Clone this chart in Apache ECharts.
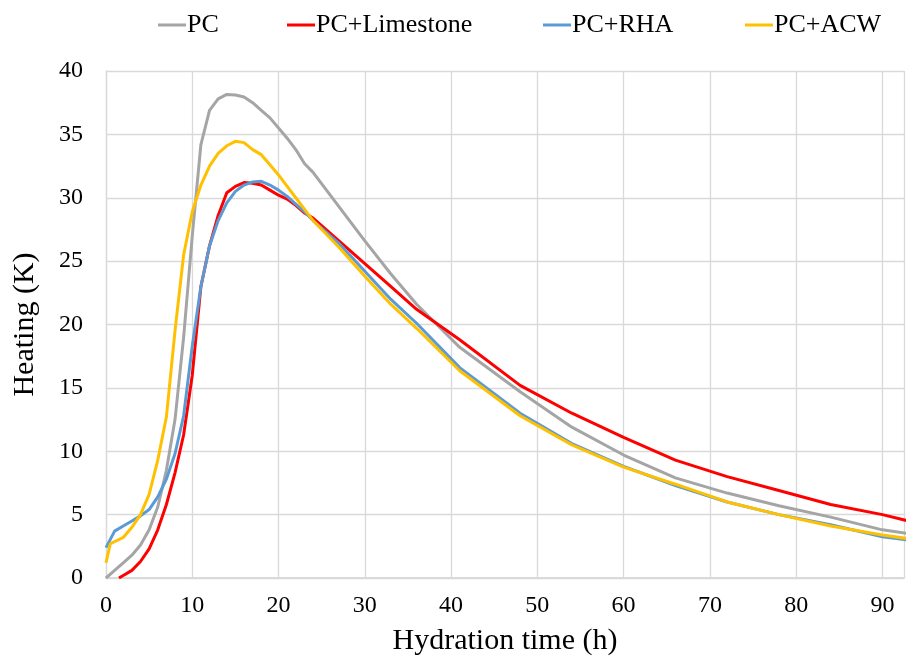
<!DOCTYPE html>
<html>
<head>
<meta charset="utf-8">
<script src="https://cdn.jsdelivr.net/npm/echarts@6/dist/echarts.min.js"></script>
<style>
html,body{margin:0;padding:0;background:#fff;}
#c{width:907px;height:663px;}
</style>
</head>
<body>
<div id="c"></div>
<script>
// Hydration time (h) sample points per series
const seriesNames = ['PC', 'PC+Limestone', 'PC+RHA', 'PC+ACW'];

const pcX = [0,1,2,3,4,5,6,7,8,9,10,11,12,13,14,15,16,17,18,19,20,21,22,23,24,27,30,33,36,41,48,54,60,66,72,78,84,90,93];
const pcY = [0,0.6,1.2,1.8,2.6,3.8,5.6,8.5,12.5,19,27,34.2,36.9,37.8,38.15,38.1,37.95,37.5,36.9,36.3,35.5,34.7,33.8,32.7,32.0,29.3,26.6,24.0,21.6,18.2,14.7,11.9,9.7,7.9,6.7,5.7,4.8,3.8,3.5];

const limX = [1.5,2,3,4,5,6,7,8,9,10,11,12,13,14,15,16,17,18,19,20,21,22,23,24,27,30,33,36,41,48,54,60,66,72,78,84,90,93];
const limY = [0,0.2,0.6,1.3,2.3,3.8,5.8,8.3,11.3,16.0,23.0,26.2,28.6,30.4,30.9,31.2,31.15,31.0,30.6,30.2,29.9,29.4,28.8,28.4,26.6,24.8,23.0,21.2,18.8,15.2,13.0,11.1,9.3,8.0,6.9,5.8,5.0,4.5];

const rhaX = [0,1,2,3,4,5,6,7,8,9,10,11,12,13,14,15,16,17,18,19,20,21,22,23,24,27,30,33,36,41,48,54,60,66,72,78,84,90,93];
const rhaY = [2.4,3.7,4.1,4.5,4.9,5.4,6.4,7.8,9.8,12.8,18.3,23.0,26.2,28.2,29.6,30.5,31.0,31.25,31.3,31.0,30.6,30.1,29.5,28.9,28.2,26.4,24.2,22.0,20.1,16.6,13.0,10.6,8.8,7.3,6.0,5.0,4.2,3.25,3.0];

const acwX = [0,0.5,2,3,4,5,6,7,8,9,10,11,12,13,14,15,16,17,18,19,20,21,22,23,24,27,30,33,36,41,48,54,60,66,72,78,84,90,93];
const acwY = [1.2,2.7,3.2,4.0,5.0,6.6,9.3,12.7,19.5,25.5,28.9,31.0,32.5,33.5,34.1,34.45,34.35,33.8,33.4,32.6,31.8,30.9,30.0,29.1,28.2,26.1,23.8,21.6,19.7,16.35,12.8,10.5,8.75,7.4,6.0,5.0,4.1,3.4,3.1];

const xTicks = [0,10,20,30,40,50,60,70,80,90];
const yTicks = [0,5,10,15,20,25,30,35,40];

const colors = ['#A5A5A5', '#FF0000', '#5B9BD5', '#FFC000'];
const xs = [pcX, limX, rhaX, acwX];
const ys = [pcY, limY, rhaY, acwY];

const FONT = '"Liberation Serif", "Times New Roman", serif';
const legendLeft = [158, 287, 543, 745];

const chart = echarts.init(document.getElementById('c'), null, {renderer: 'canvas'});
chart.setOption({
  animation: false,
  backgroundColor: '#fff',
  legend: seriesNames.map((n, i) => ({
    top: 12,
    left: legendLeft[i],
    padding: 0,
    itemWidth: 28,
    itemHeight: 3,
    icon: 'rect',
    textStyle: {fontFamily: FONT, fontSize: 26, color: '#000', padding: [0, 0, 0, -4]},
    data: [n]
  })),
  grid: {left: 106, top: 71, right: 0, bottom: 85, containLabel: false},
  xAxis: {
    type: 'value',
    min: 0, max: 92.5, interval: 10,
    name: 'Hydration time (h)',
    nameLocation: 'middle',
    nameGap: 48,
    nameTextStyle: {fontFamily: FONT, fontSize: 30, color: '#000'},
    axisLine: {show: true, lineStyle: {color: '#D9D9D9', width: 2}},
    axisTick: {show: false},
    axisLabel: {
      fontFamily: FONT, fontSize: 24, color: '#000', margin: 16,
      formatter: v => xTicks.includes(v) ? String(v) : ''
    },
    splitLine: {show: true, lineStyle: {color: '#D9D9D9', width: 1.3}}
  },
  yAxis: {
    type: 'value',
    min: 0, max: 40, interval: 5,
    name: 'Heating (K)',
    nameLocation: 'middle',
    nameGap: 66,
    nameTextStyle: {fontFamily: FONT, fontSize: 30, color: '#000'},
    axisLine: {show: true, lineStyle: {color: '#D9D9D9', width: 1.3}},
    axisTick: {show: false},
    axisLabel: {
      fontFamily: FONT, fontSize: 24, color: '#000', margin: 23,
      formatter: v => yTicks.includes(v) ? String(v) : ''
    },
    splitLine: {show: true, lineStyle: {color: '#D9D9D9', width: 1.3}}
  },
  series: seriesNames.map((n, i) => ({
    name: n,
    type: 'line',
    data: xs[i].map((x, k) => [x, ys[i][k]]),
    showSymbol: false,
    symbol: 'none',
    clip: true,
    lineStyle: {color: colors[i], width: 3},
    itemStyle: {color: colors[i]},
    z: 2 + i
  }))
});
</script>
</body>
</html>
